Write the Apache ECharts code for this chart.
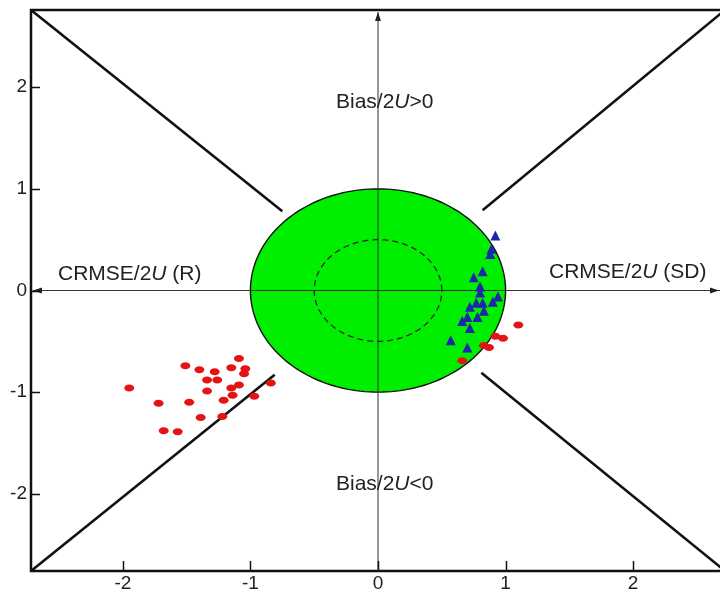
<!DOCTYPE html>
<html>
<head>
<meta charset="utf-8">
<script src="https://cdn.jsdelivr.net/npm/echarts@6/dist/echarts.min.js"></script>
<style>html,body{margin:0;padding:0;background:#fff}#c{width:720px;height:594px}</style>
</head>
<body>
<div id="c"></div>
<script>
// ---- data ----
const xTicks = [-2, -1, 0, 1, 2];
const yTicks = [-2, -1, 0, 1, 2];
const xRange = [-2.72, 2.72];
const yRange = [-2.76, 2.76];
const targetRadius = 1.0;   // green uncertainty circle
const innerRadius = 0.5;    // dashed circle
// diagonal separators: corner -> inner end
const diagFromX = [-2.72, 2.72, -2.72, 2.72];
const diagFromY = [2.76, 2.76, -2.76, -2.76];
const diagToX = [-0.75, 0.82, -0.81, 0.81];
const diagToY = [0.78, 0.79, -0.83, -0.81];
// red ellipse points
const redX = [-1.95, -1.72, -1.68, -1.57, -1.51, -1.48, -1.40, -1.39, -1.34, -1.34, -1.28, -1.26, -1.22, -1.21, -1.15, -1.15, -1.14, -1.09, -1.09, -1.05, -1.04, -0.97, -0.84,
              1.10, 0.92, 0.98, 0.83, 0.87, 0.66];
const redY = [-0.96, -1.11, -1.38, -1.39, -0.74, -1.10, -0.78, -1.25, -0.88, -0.99, -0.80, -0.88, -1.24, -1.08, -0.76, -0.96, -1.03, -0.93, -0.67, -0.82, -0.77, -1.04, -0.91,
              -0.34, -0.45, -0.47, -0.54, -0.56, -0.69];
// blue triangles
const blueX = [0.92, 0.89, 0.88, 0.82, 0.75, 0.80, 0.80, 0.94, 0.90, 0.77, 0.82, 0.72, 0.83, 0.78, 0.70, 0.66, 0.72, 0.57, 0.70];
const blueY = [0.54, 0.41, 0.36, 0.19, 0.13, 0.04, -0.02, -0.06, -0.11, -0.12, -0.12, -0.16, -0.20, -0.26, -0.26, -0.30, -0.37, -0.49, -0.56];

const redData = redX.map((x, i) => [x, redY[i]]);
const blueData = blueX.map((x, i) => [x, blueY[i]]);

const chart = echarts.init(document.getElementById('c'), null, {renderer: 'canvas'});
const FONT = '"Liberation Sans", Arial, sans-serif';

function circlePts(api, r) {
  const pts = [];
  for (let k = 0; k <= 180; k++) {
    const t = 2 * Math.PI * k / 180;
    pts.push(api.coord([r * Math.cos(t), r * Math.sin(t)]));
  }
  return pts;
}

const backgroundSeries = {
  type: 'custom',
  silent: true,
  clip: false,
  z: 1,
  data: [[0, 0]],
  renderItem: function (params, api) {
    const ch = [];
    ch.push({type: 'polygon', shape: {points: circlePts(api, targetRadius)},
      style: {fill: '#00ee00', stroke: '#111', lineWidth: 1.4}});
    ch.push({type: 'polyline', shape: {points: circlePts(api, innerRadius)},
      style: {fill: null, stroke: '#222', lineWidth: 1.3, lineDash: [6, 4]}});
    // axes through zero
    const l = api.coord([xRange[0], 0]), r = api.coord([xRange[1], 0]);
    const b = api.coord([0, yRange[0]]), t = api.coord([0, yRange[1]]);
    ch.push({type: 'line', shape: {x1: l[0] + 2, y1: l[1], x2: r[0], y2: r[1]}, style: {stroke: '#333', lineWidth: 1}});
    ch.push({type: 'line', shape: {x1: b[0], y1: b[1], x2: t[0], y2: t[1] + 2}, style: {stroke: '#333', lineWidth: 1}});
    ch.push({type: 'polygon', shape: {points: [[l[0] + 2, l[1]], [l[0] + 11, l[1] - 3], [l[0] + 11, l[1] + 3]]}, style: {fill: '#222'}});
    ch.push({type: 'polygon', shape: {points: [[r[0] - 6, r[1]], [r[0] - 15, r[1] - 3], [r[0] - 15, r[1] + 3]]}, style: {fill: '#222'}});
    ch.push({type: 'polygon', shape: {points: [[t[0], t[1] + 2], [t[0] - 3, t[1] + 11], [t[0] + 3, t[1] + 11]]}, style: {fill: '#222'}});
    // inside ticks on the frame
    const base = api.coord([0, yRange[0]])[1];
    const leftEdge = api.coord([xRange[0], 0])[0];
    xTicks.forEach(v => {
      const x = Math.round(api.coord([v, 0])[0]) + 0.5;
      ch.push({type: 'line', shape: {x1: x, y1: base - 1, x2: x, y2: base - 10}, style: {stroke: '#111', lineWidth: 1.5}});
    });
    yTicks.forEach(v => {
      const y = Math.round(api.coord([0, v])[1]) + 0.5;
      ch.push({type: 'line', shape: {x1: leftEdge + 1, y1: y, x2: leftEdge + 9, y2: y}, style: {stroke: '#111', lineWidth: 1.5}});
    });
    // diagonals
    for (let i = 0; i < diagFromX.length; i++) {
      const p = api.coord([diagFromX[i], diagFromY[i]]);
      const q = api.coord([diagToX[i], diagToY[i]]);
      ch.push({type: 'line', shape: {x1: p[0], y1: p[1], x2: q[0], y2: q[1]}, style: {stroke: '#111', lineWidth: 2.6}});
    }
    return {type: 'group', children: ch};
  }
};

function richText(pre, post) {
  return '{a|' + pre + '}{i|U}{a|' + post + '}';
}
const richDef = {
  a: {fontSize: 21, fontFamily: FONT, fill: '#222', color: '#222'},
  i: {fontSize: 21, fontFamily: FONT, fontStyle: 'italic', fill: '#222', color: '#222'}
};

chart.setOption({
  animation: false,
  backgroundColor: '#fff',
  grid: {left: 31, top: 10, width: 694, bottom: 23, show: true, borderColor: '#111', borderWidth: 2.5,
    backgroundColor: 'transparent', containLabel: false, outerBoundsMode: 'none'},
  xAxis: {
    type: 'value', min: xRange[0], max: xRange[1], position: 'bottom',
    axisLine: {show: false, onZero: false},
    splitLine: {show: false},
    axisTick: {show: false},
    axisLabel: {customValues: xTicks, fontSize: 19, fontFamily: FONT, color: '#222', margin: 3}
  },
  yAxis: {
    type: 'value', min: yRange[0], max: yRange[1], position: 'left',
    axisLine: {show: false, onZero: false},
    splitLine: {show: false},
    axisTick: {show: false},
    axisLabel: {customValues: yTicks, fontSize: 19, fontFamily: FONT, color: '#222', margin: 4}
  },
  graphic: [
    {type: 'text', left: 58, top: 264, z: 10, style: {text: richText('CRMSE/2', ' (R)'), rich: richDef, font: '21px ' + FONT}},
    {type: 'text', left: 549, top: 262, z: 10, style: {text: richText('CRMSE/2', ' (SD)'), rich: richDef, font: '21px ' + FONT}},
    {type: 'text', left: 336, top: 92, z: 10, style: {text: richText('Bias/2', '>0'), rich: richDef, font: '21px ' + FONT}},
    {type: 'text', left: 336, top: 474, z: 10, style: {text: richText('Bias/2', '<0'), rich: richDef, font: '21px ' + FONT}}
  ],
  series: [
    backgroundSeries,
    {type: 'scatter', z: 5, data: redData, symbol: 'circle', symbolSize: [10, 7],
      itemStyle: {color: '#e41414', opacity: 1}},
    {type: 'scatter', z: 6, data: blueData, symbol: 'triangle', symbolSize: [10, 10],
      itemStyle: {color: '#1c28a8', opacity: 1}}
  ]
});
</script>
</body>
</html>
